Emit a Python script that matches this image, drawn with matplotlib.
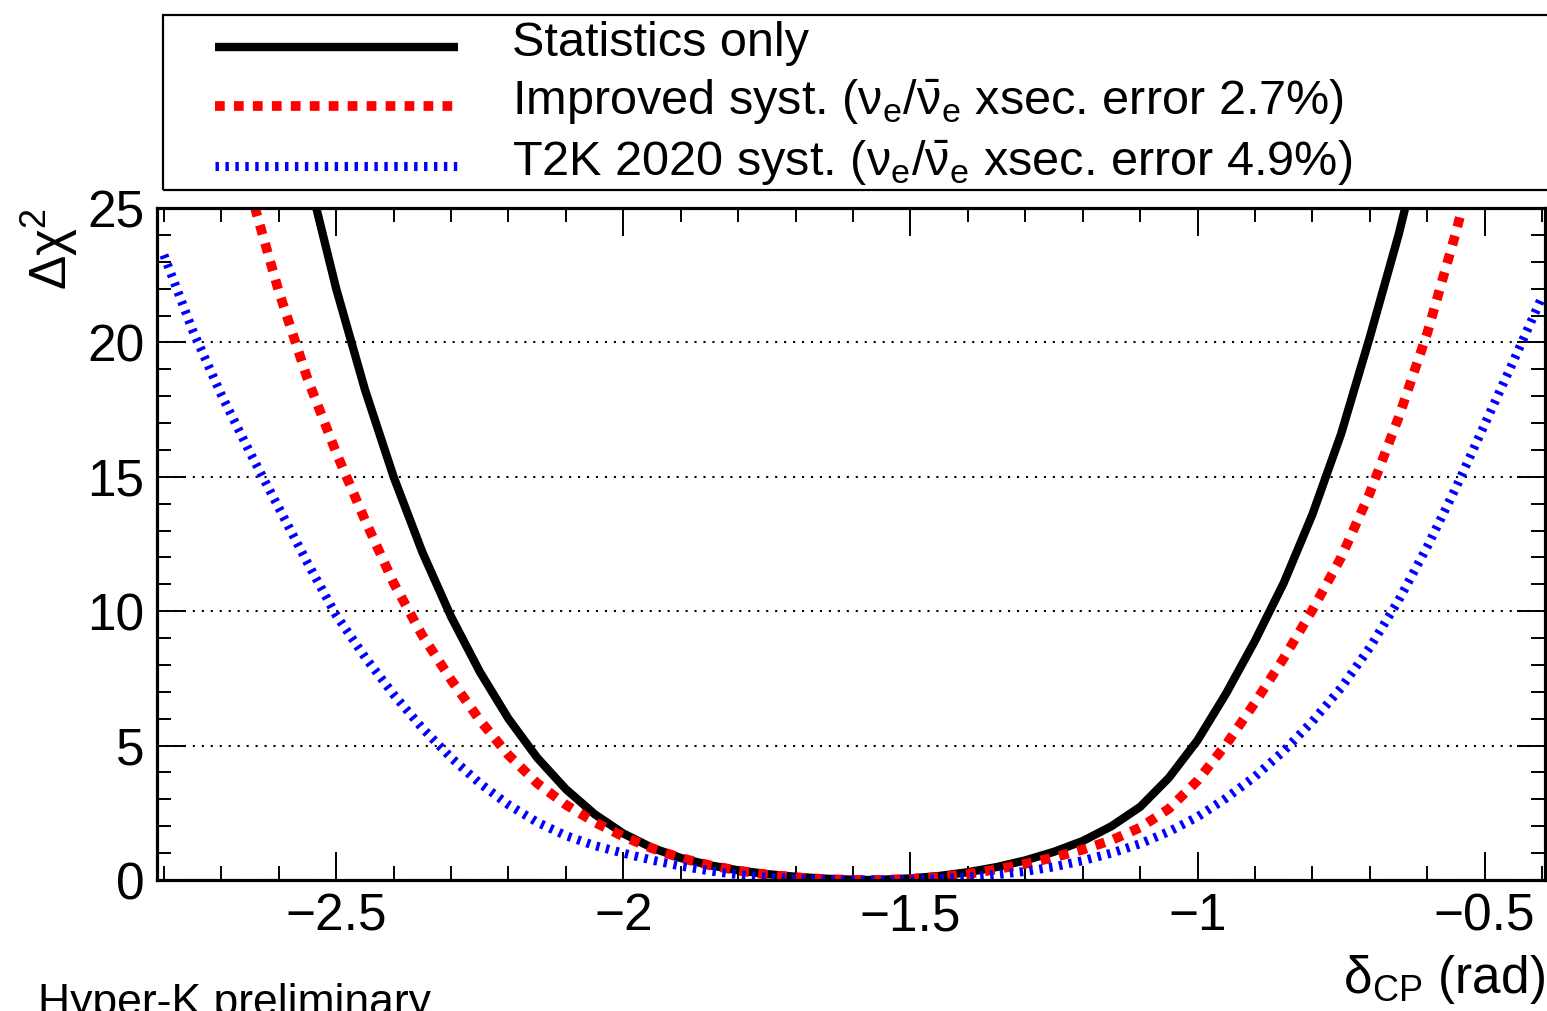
import matplotlib
matplotlib.use("Agg")
import numpy as np
import matplotlib.pyplot as plt
from matplotlib.lines import Line2D
from matplotlib.legend_handler import HandlerLine2D
from matplotlib.patches import Rectangle
from matplotlib.ticker import MultipleLocator, FuncFormatter

plt.rcParams["font.family"] = ["Liberation Sans", "DejaVu Sans"]
plt.rcParams["mathtext.fontset"] = "custom"
plt.rcParams["mathtext.rm"] = "Liberation Sans"
plt.rcParams["mathtext.it"] = "Liberation Sans:italic"
plt.rcParams["mathtext.bf"] = "Liberation Sans:bold"

# delta_CP (rad) and Delta chi^2
stat_x = [-2.56, -2.50, -2.45, -2.40, -2.35, -2.30, -2.25, -2.20, -2.15, -2.10,
          -2.05, -2.00, -1.95, -1.90, -1.85, -1.80, -1.75, -1.70, -1.65, -1.60,
          -1.57, -1.55, -1.50, -1.45, -1.40, -1.35, -1.30, -1.25, -1.20, -1.15,
          -1.10, -1.05, -1.00, -0.95, -0.90, -0.85, -0.80, -0.75, -0.70, -0.65,
          -0.62]
stat_y = [27.2, 22.0, 18.25, 15.0, 12.2, 9.8, 7.75, 6.0, 4.55, 3.38,
          2.45, 1.73, 1.2, 0.82, 0.55, 0.36, 0.22, 0.12, 0.05, 0.01,
          0.0, 0.01, 0.06, 0.15, 0.29, 0.48, 0.73, 1.05, 1.45, 2.0,
          2.72, 3.8, 5.2, 6.95, 8.9, 11.05, 13.6, 16.6, 20.2, 24.0,
          26.6]

impr_x = [-2.66, -2.60, -2.55, -2.50, -2.45, -2.40, -2.35, -2.30, -2.25, -2.20,
          -2.15, -2.10, -2.05, -2.00, -1.95, -1.90, -1.85, -1.80, -1.75, -1.70,
          -1.65, -1.60, -1.57, -1.55, -1.50, -1.45, -1.40, -1.35, -1.30, -1.25,
          -1.20, -1.15, -1.10, -1.05, -1.00, -0.95, -0.90, -0.85, -0.80, -0.75,
          -0.70, -0.65, -0.60, -0.55, -0.52]
impr_y = [26.4, 21.9, 18.65, 15.9, 13.4, 11.05, 9.1, 7.45, 5.95, 4.65,
          3.6, 2.8, 2.15, 1.62, 1.18, 0.82, 0.55, 0.35, 0.2, 0.1,
          0.035, 0.005, 0.0, 0.005, 0.04, 0.11, 0.22, 0.4, 0.6, 0.84,
          1.13, 1.48, 1.95, 2.65, 3.7, 5.05, 6.6, 8.25, 10.05, 12.0,
          14.4, 17.2, 20.35, 24.1, 26.6]

t2k_x = [-2.80, -2.75, -2.70, -2.65, -2.60, -2.55, -2.50, -2.45, -2.40, -2.35,
         -2.30, -2.25, -2.20, -2.15, -2.10, -2.05, -2.00, -1.95, -1.90, -1.85,
         -1.80, -1.75, -1.70, -1.65, -1.60, -1.57, -1.55, -1.50, -1.45, -1.40,
         -1.35, -1.30, -1.25, -1.20, -1.15, -1.10, -1.05, -1.00, -0.95, -0.90,
         -0.85, -0.80, -0.75, -0.70, -0.65, -0.60, -0.55, -0.50, -0.45, -0.40]
t2k_y = [23.25, 20.45, 18.05, 15.9, 13.85, 11.8, 9.85, 8.3, 6.9, 5.65,
         4.55, 3.6, 2.8, 2.15, 1.65, 1.28, 1.0, 0.74, 0.52, 0.34,
         0.2, 0.1, 0.045, 0.012, 0.0, 0.0, 0.0, 0.015, 0.05, 0.11,
         0.2, 0.32, 0.49, 0.72, 1.0, 1.35, 1.8, 2.35, 3.05, 3.85,
         4.8, 5.9, 7.15, 8.65, 10.4, 12.4, 14.6, 16.95, 19.3, 21.7]

labels = [
    "Statistics only",
    r"Improved syst. ($\mathregular{\nu_e/\bar{\nu}_e}$ xsec. error 2.7%)",
    r"T2K 2020 syst. ($\mathregular{\nu_e/\bar{\nu}_e}$ xsec. error 4.9%)",
]


class LoweredLine(HandlerLine2D):
    """Legend line sitting a bit lower, level with the text body."""
    def create_artists(self, legend, orig_handle, xdescent, ydescent, width,
                       height, fontsize, trans):
        arts = super().create_artists(legend, orig_handle, xdescent, ydescent,
                                      width, height, fontsize, trans)
        for a in arts:
            a.set_ydata(np.asarray(a.get_ydata()) - 5.5)
        return arts


W, H = 1547, 1011
fig = plt.figure(figsize=(W / 100, H / 100), dpi=100)
ax = fig.add_axes([157 / W, 131 / H, 1388 / W, 672 / H])

ax.plot(stat_x, stat_y, color="black", lw=6, solid_capstyle="butt",
        solid_joinstyle="round", label=labels[0])
ax.plot(impr_x, impr_y, color="red", lw=7, linestyle=(0, (1.0, 0.95)),
        dash_capstyle="butt", dash_joinstyle="round", label=labels[1])
ax.plot(t2k_x, t2k_y, color="blue", lw=6.5, linestyle=(0, (0.38, 0.72)),
        dash_capstyle="butt", dash_joinstyle="round", label=labels[2])

ax.set_xlim(-2.812, -0.395)
ax.set_ylim(0, 25)
ax.xaxis.set_major_locator(MultipleLocator(0.5))
ax.xaxis.set_minor_locator(MultipleLocator(0.1))
ax.xaxis.set_major_formatter(FuncFormatter(lambda v, p: f"{v:g}".replace("-", "\u2212")))
ax.yaxis.set_major_locator(MultipleLocator(5))
ax.yaxis.set_minor_locator(MultipleLocator(1))
ax.yaxis.grid(True, which="major", color="black", lw=1.5, linestyle=(0, (1, 3.3)))

ax.tick_params(which="both", direction="in", top=True, right=True, width=1.4,
               labelsize=37)
ax.tick_params(which="major", length=20)
ax.tick_params(which="minor", length=10)
ax.tick_params(axis="x", pad=9)
ax.tick_params(axis="y", pad=9)
for sp in ax.spines.values():
    sp.set_linewidth(2.3)

ax.set_ylabel(r"Δχ$^{\mathregular{2}}$", fontsize=37, loc="top")
ax.yaxis.label.set_va("baseline")
ax.yaxis.set_label_coords(-0.065, 1.0)
ax.set_xlabel(r"δ$_{\mathregular{CP}}$ (rad)", fontsize=37, loc="right")
ax.xaxis.label.set_va("baseline")
ax.xaxis.set_label_coords(1.0, -0.168)

ax.legend(loc="upper left", bbox_to_anchor=(215 / W, 1 - 21 / H),
          bbox_transform=fig.transFigure, frameon=False, fontsize=35,
          handlelength=5.0, handletextpad=1.1, labelspacing=0.24,
          borderpad=0, borderaxespad=0, handler_map={Line2D: LoweredLine()})
fig.add_artist(Rectangle((163 / W, 1 - 190 / H), 1.0, 175 / H,
                         transform=fig.transFigure, fill=False, lw=1.6,
                         ec="black"))

fig.text(38 / W, -4 / H, "Hyper-K preliminary", fontsize=32, va="baseline")

fig.savefig("out.png", dpi=100)
